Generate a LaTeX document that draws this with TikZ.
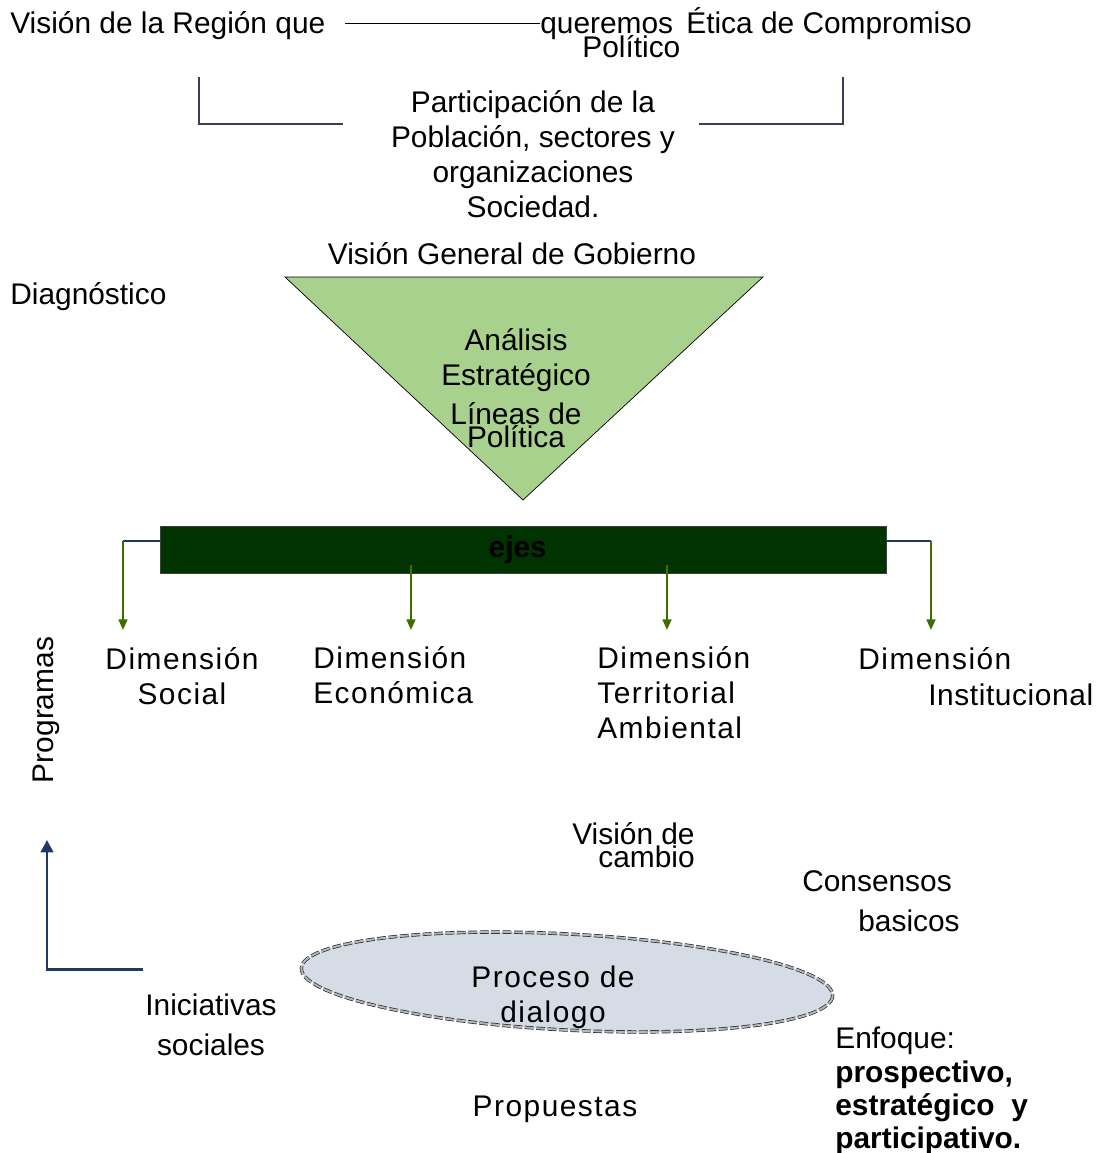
\documentclass[tikz,border=0pt]{standalone}
\usepackage{fontspec}
\setmainfont{Liberation Sans}
\usetikzlibrary{positioning}
\usetikzlibrary{arrows.meta}
\definecolor{LeafGreen}{RGB}{169,209,142}
\definecolor{EjeGreen}{RGB}{0,51,0}
\definecolor{ArrowGreen}{RGB}{62,110,0}
\definecolor{NavyLine}{RGB}{31,56,100}
\definecolor{Slate}{RGB}{62,58,88}
\definecolor{Cloud}{RGB}{214,220,229}

\begin{document}
\begin{tikzpicture}
          [
          x=0.02cm, y=-0.02cm,
          Txt/.style={inner sep=0pt, font=\fontsize{17}{20}\selectfont},
          Ctr/.style={Txt, align=center},
          Lft/.style={Txt, align=left, anchor=west},
          Tight/.style={inner sep=0pt, align=center, font=\fontsize{17}{13}\selectfont},
          Wide/.style={font=\fontsize{17}{20}\selectfont\addfontfeature{LetterSpace=5}},
          Bar/.style={rectangle, draw=black!75, fill=EjeGreen, thin, minimum width=14.52cm, minimum height=0.94cm, font=\fontsize{17}{20}\selectfont\bfseries, text=black},
          Oval/.style={draw=black!85, double=Cloud!60!gray, double distance=1.1pt, dash pattern=on 5pt off 1.5pt, fill=Cloud},
          Down/.style={-{Triangle[length=6pt, width=5pt]}, ArrowGreen, line width=1.2pt},
          Up/.style={-{Triangle[length=7pt, width=7pt]}, NavyLine, line width=1.7pt},
          ]
          \useasboundingbox (0,0) rectangle (1103,1153);

          % Nodes
          \node[Lft] (Region) at (10,26) {Visión de la Región que};
          \node[Lft] (Queremos) at (540,29) {queremos};
          \node[Lft] (Politico) at (582,47) {Político};
          \node[Lft] (Etica) at (686,24) {Ética de Compromiso};
          \node[Ctr] (Poblacion) at (533,154) {Participación de la\\Población, sectores y\\organizaciones\\Sociedad.};
          \node[Ctr] (Gobierno) at (512,254) {Visión General de Gobierno};
          \node[Lft] (Diag) at (10,297) {Diagnóstico};

          \draw[fill=LeafGreen, thin] (285,277) -- (763,277) -- (523,500) -- cycle;
          \node[Ctr] (Analisis) at (516,360) {Análisis\\Estratégico};
          \node[Tight] (Lineas) at (516,425) {Líneas de\\Política};

          \node[Bar] (Ejes) at (523,549.5) {\raisebox{-2pt}{ejes}\hspace*{6pt}};

          \node[Ctr, Wide] (Social) at (182,676) {Dimensión\\Social};
          \node[Txt, Wide, align=left, anchor=north west] (Economica) at (313,646) {Dimensión\\Económica};
          \node[Txt, Wide, align=left, anchor=north west] (Territorial) at (597,646) {Dimensión\\Territorial\\Ambiental};
          \node[Lft, Wide] (DimInst) at (858,659) {Dimensión};
          \node[Lft, font=\fontsize{17}{20}\selectfont\addfontfeature{LetterSpace=2}] (Inst) at (928,695) {Institucional};
          \node[Txt, rotate=90] (Programas) at (46,710) {Programas};

          \node[Tight, align=right, anchor=east] (Cambio) at (695,845) {Visión de\\cambio};
          \node[Txt] (Consensos) at (877,881) {Consensos};
          \node[Txt] (Basicos) at (909,921) {basicos};

          \draw[Oval] (567,982) ellipse [x radius=266, y radius=48, rotate=-3];
          \node[Ctr, Wide] (Proceso) at (553,997) {Proceso de\\dialogo};
          \node[Txt, align=center, font=\fontsize{17}{23}\selectfont] (Iniciativas) at (211,1025) {Iniciativas\\sociales};
          \node[Txt, Wide] (Propuestas) at (555,1109) {Propuestas};
          \node[Txt, align=left, anchor=west, font=\fontsize{17}{19}\selectfont] (Enfoque) at (835,1091) {Enfoque:\\\textbf{prospectivo,}\\\textbf{estratégico\ \ y}\\\textbf{participativo.}};

          % Coordinates
          \coordinate (TopLine) at (345,23);
          \coordinate (BrLeftTop) at (199,77);
          \coordinate (BrLeftEnd) at (343,124);
          \coordinate (BrRightTop) at (843,77);
          \coordinate (BrRightEnd) at (699,124);
          \coordinate (EjeLeft) at (123,541);
          \coordinate (EjeRight) at (931,541);
          \coordinate (EjeMidA) at (411,565);
          \coordinate (EjeMidB) at (667,565);
          \coordinate (IniStart) at (143,969);
          \coordinate (ProgEnd) at (47,840);

          % Lines
          \path [draw, thin] (TopLine) -- (TopLine -| Queremos.west);
          \path [draw, Slate, line width=1.1pt] (BrLeftTop) |- (BrLeftEnd);
          \path [draw, Slate, line width=1.1pt] (BrRightTop) |- (BrRightEnd);
          \path [draw, NavyLine, line width=1.2pt] (Ejes.west |- EjeLeft) -- (EjeLeft);
          \path [draw, NavyLine, line width=1.2pt] (Ejes.east |- EjeRight) -- (EjeRight);
          \path [draw, Down] (EjeLeft) -- ++(0,89);
          \path [draw, Down] (EjeMidA) -- ++(0,65);
          \path [draw, Down] (EjeMidB) -- ++(0,65);
          \path [draw, Down] (EjeRight) -- ++(0,89);
          \path [draw, Up] (IniStart) -| (ProgEnd);

        \end{tikzpicture}
\end{document}
